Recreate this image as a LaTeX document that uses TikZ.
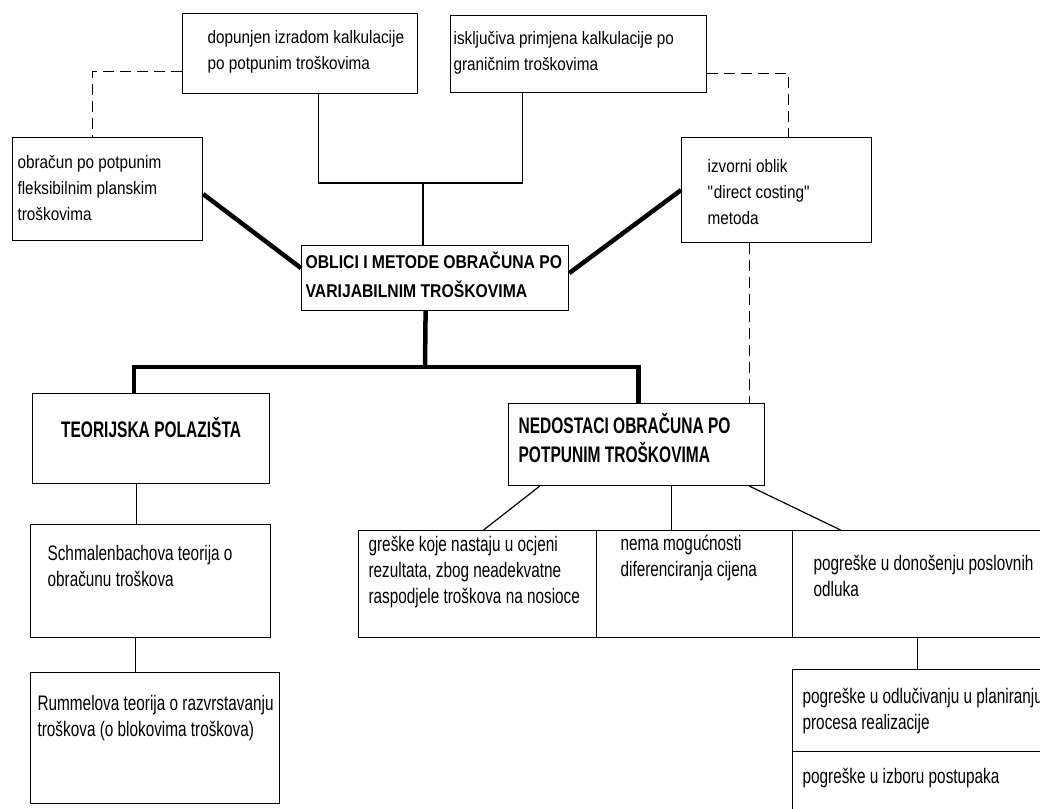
\documentclass[tikz,border=0pt]{standalone}
\usepackage{fontspec}
\setmainfont[FakeStretch=0.85]{Liberation Sans}
\newfontfamily\lowfont[FakeStretch=0.73]{Liberation Sans}
\newfontfamily\headfont[FakeStretch=0.69]{Liberation Sans}
\usepackage{tikz}
\tikzstyle{box}=[draw,rectangle,line width=1.2pt,anchor=north west,inner sep=0pt]
\tikzstyle{lowbox}=[box,font=\lowfont\fontsize{21}{26}\selectfont]
\tikzstyle{mainbox}=[box,font=\fontsize{18.5}{29}\selectfont\bfseries]
\tikzstyle{headbox}=[box,font=\headfont\fontsize{22.5}{29}\selectfont\bfseries]
\tikzstyle{line} = [draw, line width=1.2pt]
\tikzstyle{thickline} = [draw, line width=4.5pt]
\tikzstyle{dashline} = [draw, line width=1.2pt, dash pattern=on 11pt off 6pt]
\newcommand{\boxtext}[4][\raggedright]{\parbox[c][#3][t]{#2}{#1\begin{tabular}[t]{@{}l@{}}#4\end{tabular}}}

\begin{document}
\begin{tikzpicture}[x=1pt,y=-1pt,font=\fontsize{18}{26}\selectfont]
  \useasboundingbox (0,0) rectangle (1040,808);
  \clip (0,0) rectangle (1040,808);
  \fill[white] (0,0) rectangle (1040,808);
  % top row
  \node[box,inner xsep=25pt,inner ysep=12pt] (dopunjen) at (182,13) {\boxtext{185pt}{56pt}{dopunjen izradom kalkulacije\\po potpunim troškovima}};
  \node[box,inner xsep=3pt,inner ysep=11pt] (iskljuciva) at (450,15) {\boxtext{250pt}{55pt}{isključiva primjena kalkulacije po\\graničnim troškovima}};
  \node[box,inner xsep=5pt,inner ysep=13pt] (potpuni) at (12,137) {\boxtext{180pt}{77pt}{obračun po potpunim\\fleksibilnim planskim\\troškovima}};
  \node[box,inner xsep=26pt,inner ysep=17pt] (direct) at (681,137) {\boxtext{138pt}{71pt}{izvorni oblik\\\textquotedbl direct costing\textquotedbl\\metoda}};
  \node[mainbox,inner xsep=4pt,inner ysep=3pt] (oblici) at (301,245) {\boxtext{259pt}{59pt}{OBLICI I METODE OBRAČUNA PO\\VARIJABILNIM TROŠKOVIMA}};
  % second level
  \node[headbox,inner xsep=0pt,inner ysep=24pt] (teorija) at (32,393) {\boxtext[\centering]{237pt}{42pt}{TEORIJSKA POLAZIŠTA}};
  \node[headbox,inner xsep=10pt,inner ysep=10pt] (nedostaci) at (508,403) {\boxtext{236pt}{62pt}{NEDOSTACI OBRAČUNA PO\\POTPUNIM TROŠKOVIMA}};
  \node[lowbox,inner xsep=17pt,inner ysep=18pt] (schmalenbach) at (30,524) {\boxtext{206pt}{77pt}{Schmalenbachova teorija o\\obračunu troškova}};
  \node[lowbox,inner xsep=7pt,inner ysep=20pt] (rummel) at (30,672) {\boxtext{235pt}{91pt}{Rummelova teorija o razvrstavanju\\troškova (o blokovima troškova)}};
  \node[lowbox,inner xsep=10pt,inner ysep=3pt] (greske) at (358,530) {\boxtext{218pt}{101pt}{greške koje nastaju u ocjeni\\rezultata, zbog neadekvatne\\raspodjele troškova na nosioce}};
  \node[lowbox,inner xsep=24pt,inner ysep=2pt] (nema) at (596,530) {\boxtext{148pt}{103pt}{nema mogućnosti\\diferenciranja cijena}};
  \node[lowbox,inner xsep=21pt,inner ysep=22pt] (donosenje) at (792,530) {\boxtext{226pt}{63pt}{pogreške u donošenju poslovnih\\odluka}};
  \node[lowbox,inner xsep=10pt,inner ysep=16pt] (odlucivanje) at (792,669) {\boxtext{248pt}{50pt}{pogreške u odlučivanju u planiranju\\procesa realizacije}};
  \node[lowbox,inner xsep=10pt,inner ysep=14pt] (izbor) at (792,751) {\boxtext{248pt}{51pt}{pogreške u izboru postupaka}};

  % top connectors
  \coordinate (topjoin) at (423,183);
  \path[line] ([xshift=18pt]dopunjen.south) |- (topjoin) -| ([xshift=-56pt]iskljuciva.south);
  \path[line] (topjoin) -- (topjoin |- oblici.north);
  \path[dashline] ([yshift=-18pt]dopunjen.west) -| ([xshift=-15pt]potpuni.north);
  \path[dashline] ([yshift=-19pt]iskljuciva.east) -| ([xshift=12pt]direct.north);
  \path[dashline] ([xshift=-27pt]direct.south) -- ([xshift=-27pt]direct.south |- nedostaci.north);
  \path[thickline] ([yshift=-5pt]potpuni.east) -- ([yshift=10pt]oblici.west);
  \path[thickline] ([yshift=5pt]oblici.east) -- (direct.west);

  % main branches
  \coordinate (bus) at (425,367);
  \path[thickline] ([xshift=-9.5pt]oblici.south) -- (bus);
  \path[thickline] ([xshift=-17pt]teorija.north) |- (bus) -| ([xshift=2pt]nedostaci.north);
  \path[line] ([xshift=-15pt]teorija.south) -- ([xshift=-15pt]teorija.south |- schmalenbach.north);
  \path[line] ([xshift=-15pt]schmalenbach.south) -- ([xshift=-15pt]schmalenbach.south |- rummel.north);
  \path[line] ([xshift=-97pt]nedostaci.south) -- ([xshift=6pt]greske.north);
  \path[line] ([xshift=35pt]nedostaci.south) -- ([xshift=35pt]nedostaci.south |- nema.north);
  \path[line] ([xshift=113pt]nedostaci.south) -- ([xshift=-86pt]donosenje.north);
  \path[line] ([xshift=-9pt]donosenje.south) -- ([xshift=-9pt]donosenje.south |- odlucivanje.north);
\end{tikzpicture}
\end{document}
